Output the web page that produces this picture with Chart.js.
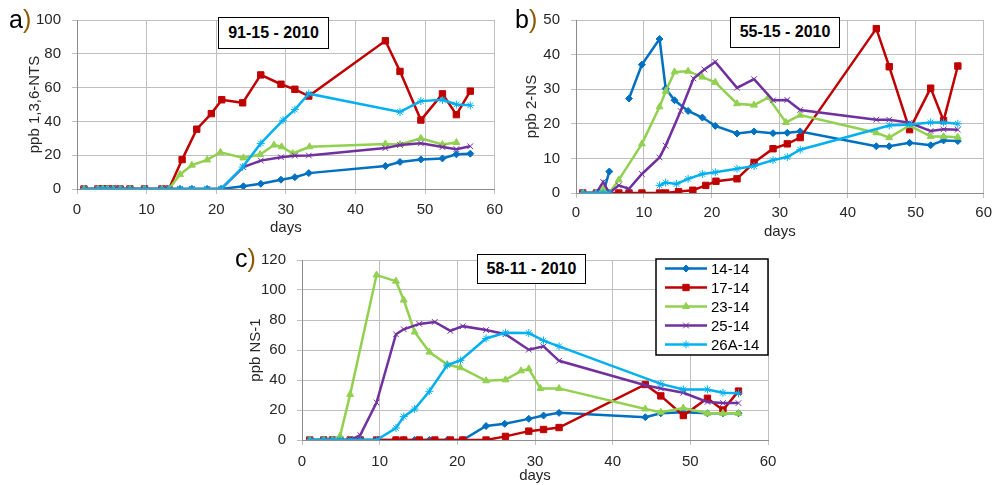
<!DOCTYPE html>
<html>
<head>
<meta charset="utf-8">
<script src="https://cdn.jsdelivr.net/npm/chart.js@4.4.1/dist/chart.umd.min.js"></script>
<style>
  body { margin: 0; background: #fff; width: 998px; height: 485px; position: relative; overflow: hidden;
         font-family: "Liberation Sans", Arial, sans-serif; }
  canvas { position: absolute; }
  .tag { position: absolute; font-size: 25px; line-height: 25px; color: #000; }
  .tag span { color: #8b5a00; }
  .name { position: absolute; box-sizing: border-box; border: 1.5px solid #000; background: #fff;
          font-weight: bold; font-size: 16px; text-align: center; color: #000; }
</style>
</head>
<body>
<canvas id="chartA" width="510" height="240" style="left:0;top:0"></canvas>
<canvas id="chartB" width="493" height="245" style="left:505px;top:0"></canvas>
<canvas id="chartC" width="570" height="245" style="left:220px;top:240px"></canvas>

<div class="tag" style="left:9px;top:7px">a<span>)</span></div>
<div class="tag" style="left:515px;top:7px">b<span>)</span></div>
<div class="tag" style="left:235px;top:246px">c<span>)</span></div>

<div class="name" style="left:218px;top:17px;width:111px;height:32px;line-height:29px">91-15 - 2010</div>
<div class="name" style="left:730px;top:17px;width:110px;height:31px;line-height:28px">55-15 - 2010</div>
<div class="name" style="left:477px;top:254px;width:109px;height:30px;line-height:27px">58-11 - 2010</div>

<script>
// sample names and line colours
const seriesNames = ["14-14", "17-14", "23-14", "25-14", "26A-14"];
const seriesColors = ["#0070c0", "#c00000", "#92d050", "#7030a0", "#00b0f0"];
const seriesMarkers = ["rectRot", "rect", "triangle", "crossRot", "star"];
const markerSizes = [3.5, 4.5, 4, 4, 4];

const dayTicks = [0, 10, 20, 30, 40, 50, 60];

// a) 91-15 - 2010, ppb 1,3,6-NTS   [day, value]
const a_14_14 = [[1,0],[3,0],[3.7,0],[4.4,0],[5.2,0],[6.2,0],[7.6,0],[9.7,0],[12.2,0],[13.2,0],[14.8,0],[16.5,0],[18.7,0],[20.7,0],
  [23.9,1.6],[26.4,3.1],[29.3,5.5],[31.3,7],[33.3,9.4],[44.3,13.6],[46.4,16],[49.4,17.5],[52.5,18.1],[54.5,20.5],[56.5,20.9]];
const a_17_14 = [[1,0],[3,0],[3.7,0],[4.4,0],[5.2,0],[6.2,0],[7.6,0],[9.7,0],[12.2,0],[13.2,0],
  [15.1,17.4],[17.2,35.4],[19.3,44.6],[20.8,52.8],[23.8,51],[26.4,67.5],[29.3,62],[31.3,59],[33.3,55],
  [44.3,87.7],[46.4,69.6],[49.4,40.8],[52.5,56.3],[54.5,44],[56.5,57.9]];
const a_23_14 = [[1,0],[3,0],[3.7,0],[4.4,0],[5.2,0],[6.2,0],[7.6,0],[9.7,0],[12.2,0],[13.2,0],
  [14.8,8.6],[16.5,14.1],[18.7,17.2],[20.6,21.7],[23.9,18.4],[26.3,20.4],[28.3,26],[29.4,25],[31,21],[33.4,25],
  [44.3,26.7],[46.4,26.3],[49.4,30],[52.5,26.3],[54.5,27.5]];
const a_25_14 = [[1,0],[3,0],[3.7,0],[4.4,0],[5.2,0],[6.2,0],[7.6,0],[9.7,0],[12.2,0],[13.2,0],[14.8,0],[16.5,0],[18.7,0],[20.7,0],
  [23.9,12.9],[26.4,16.8],[29.3,18.8],[31.3,19.7],[33.3,19.8],[44.3,24.2],[46.4,26],[49.4,27],[52.5,24.8],[54.5,23.6],[56.5,25.3]];
const a_26A_14 = [[1,0],[3,0],[3.7,0],[4.4,0],[5.2,0],[6.2,0],[7.6,0],[9.7,0],[12.2,0],[13.2,0],[14.8,0],[16.5,0],[18.7,0],[20.7,0],
  [23.8,13],[26.4,27],[29.6,40.7],[31.3,47],[33.3,56.4],[46.4,45.6],[49.4,52],[52.5,52.8],[54.5,50],[56.5,49.5]];

// b) 55-15 - 2010, ppb 2-NS   (null = break in the line)
const b_14_14 = [[1,0],[3,0],[4,0],[4.9,6.2],[6.3,null],[7.8,27.3],[9.7,37.1],[12.3,44.5],[13.2,30.2],[14.5,26.8],[16.5,23.7],
  [18.6,21.8],[20.5,19.4],[23.7,17.2],[26.2,17.8],[29,17.3],[31.1,17.4],[33,17.8],[44.2,13.5],[46.1,13.5],[49.1,14.5],
  [52.2,13.8],[54.1,15.2],[56.2,15]];
const b_17_14 = [[1,0],[3,0],[4,0],[4.9,0],[6.3,0],[7.8,0],[9.7,0],[12.3,0],[13.2,0],[15.1,0.4],[17.2,0.8],[19.1,2.2],
  [20.6,3.4],[23.7,4.1],[26.2,8.8],[29,12.8],[31.1,14.2],[33,16],[44.2,47.5],[46.1,36.5],[49.1,18.3],[52.2,30.3],
  [54.1,20.9],[56.2,36.7]];
const b_23_14 = [[1,0],[3,0],[4,1.1],[4.9,0],[6.3,3.8],[9.7,14.2],[12.3,24.9],[13.2,29.4],[14.5,35],[16.5,35.2],[18.6,33.5],
  [20.5,32],[23.7,25.8],[26.2,25.4],[28.3,27.6],[30.9,20.4],[33,22.5],[44.2,17.4],[46.1,16],[49.1,19.5],[52.2,16.3],
  [54.1,16.3],[56.2,16.1]];
const b_25_14 = [[1,0],[3,0],[4,3.2],[4.9,0],[6.3,2.2],[7.8,1.2],[9.7,5.5],[12.3,10.3],[13.2,13.7],[15.4,23.7],[17.3,33.1],
  [18.9,35.7],[20.5,37.9],[23.7,30.4],[26.2,32.9],[29,26.8],[31.1,26.9],[33,24],[44.2,21.2],[46.1,21.2],[49.1,20.3],
  [52.2,17.9],[54.1,18.4],[56.2,18.3]];
const b_26A_14 = [[1,0],[3,0],[4,0],[4.9,0],[8,null],[12.3,2.2],[13.2,3],[14.8,2.6],[16.5,4.1],[18.6,5.5],[20.5,6],
  [23.7,7],[26.2,7.8],[29,9.5],[31.1,10.4],[33,12.5],[46.1,19.5],[49.1,19.8],[52.2,20.4],[54.1,20.4],[56.2,20]];

// c) 58-11 - 2010, ppb NS-1
const c_14_14 = [[1,0],[2.8,0],[3.9,0],[4.9,0],[6.2,0],[7.5,0],[9.6,0],[12.1,0],[13.1,0],[14.5,0],[16.4,0],[18.7,0],[20.7,0],
  [23.7,9.3],[26.1,10.8],[29.2,14.1],[31.1,16.3],[33.1,18.1],[44.2,15.2],[46.2,17.8],[49.1,18.5],[52.2,17.8],[54.2,17.8],[56.2,17.8]];
const c_17_14 = [[1,0],[2.8,0],[3.9,0],[4.9,0],[6.2,0],[7.5,0],[9.6,0],[12.1,0],[13.1,0],[15.1,0],[17.1,0],[19.1,0],[20.7,0],
  [23.7,0],[26.2,2.4],[29.2,5.9],[31.1,7],[33.1,8.3],[44.2,37],[46.2,29.4],[49.1,16.3],[52.2,27.8],[54.2,20],[56.2,32.6]];
const c_23_14 = [[1,0],[2.8,0],[3.9,0],[4.9,2.6],[6.2,30.4],[9.6,110],[12.1,105.9],[13.1,93.3],[14.5,72],[16.4,58.6],
  [18.7,50.3],[20.4,48.2],[23.7,39.5],[26.2,40.1],[28.2,46.1],[29.2,47.4],[30.7,34.4],[33.1,34.4],[44.2,20.7],
  [46.2,18.5],[49.1,21.3],[52.2,17.8],[54.2,17.8],[56.2,17.8]];
const c_25_14 = [[1,0],[2.8,0],[3.9,0],[4.9,0],[6.2,0],[7.5,3.3],[9.6,25],[12.1,70.5],[13.1,73.8],[15.1,77.4],[17.1,78.7],
  [19.1,72.7],[20.7,75.9],[23.7,73.3],[26.2,70.5],[29.2,60.2],[31.1,62.4],[33.1,52.8],[44.2,36.5],[46.2,34.4],
  [49.1,31.5],[52.2,25.4],[54.2,24.6],[56.2,24.6]];
const c_26A_14 = [[1,0],[2.8,0],[3.9,0],[4.9,0],[6.2,0],[7.5,0],[9.6,0],[12.1,8],[13.1,15.6],[14.5,20.6],[16.4,32.5],
  [18.7,49.9],[20.4,53.1],[23.7,67.7],[26.2,71.5],[29.2,71.3],[31.1,66.3],[33.1,62.4],[46.2,37.4],[49.1,33.7],
  [52.2,33.7],[54.2,31.5],[56.2,31.1]];

const FONT = "'Liberation Sans', Arial, sans-serif";
const GRID = "#bfbfbf";
const TEXT = "#262626";

function makeDatasets(list) {
  return list.map((pts, i) => ({
    label: seriesNames[i],
    data: pts.map(p => ({ x: p[0], y: p[1] })),
    borderColor: seriesColors[i],
    backgroundColor: seriesColors[i],
    pointBackgroundColor: seriesColors[i],
    pointBorderColor: seriesColors[i],
    pointStyle: seriesMarkers[i],
    pointRadius: markerSizes[i],
    pointBorderWidth: 1,
    borderWidth: 2.5,
    tension: 0,
    spanGaps: false,
    order: list.length - 1 - i   // later series drawn on top
  }));
}

function makeScales(o) {
  return {
    x: {
      type: "linear", min: 0, max: 60,
      afterBuildTicks: s => { s.ticks = dayTicks.map(v => ({ value: v })); },
      ticks: { color: TEXT, font: { family: FONT, size: 15 }, padding: o.xPad, maxRotation: 0 },
      grid: { color: GRID, tickLength: 5 },
      border: { color: "#8c8c8c" },
      title: { display: true, text: "days", color: TEXT, font: { family: FONT, size: 15 },
               padding: { top: 0, bottom: o.daysPad } },
      afterFit: s => { s.height = o.xHeight; }
    },
    y: {
      type: "linear", min: 0, max: o.yMax,
      ticks: { stepSize: o.yStep, color: TEXT, font: { family: FONT, size: 15 }, padding: 11 },
      grid: { color: GRID, tickLength: 5 },
      border: { color: "#8c8c8c" },
      title: { display: true, text: o.yTitle, color: TEXT, font: { family: FONT, size: 15 },
               padding: { top: o.yTitlePad, bottom: 0 } },
      afterFit: s => { s.width = o.yWidth; }
    }
  };
}

// legend box in the top right corner of the plot
const legendBox = {
  id: "legendBox",
  afterDatasetsDraw(chart) {
    const { ctx, chartArea } = chart;
    const w = 112, h = 96;
    const x0 = chartArea.right - w, y0 = chartArea.top - 1;
    ctx.save();
    ctx.fillStyle = "#fff";
    ctx.fillRect(x0, y0, w, h);
    ctx.strokeStyle = "#000";
    ctx.lineWidth = 1.5;
    ctx.strokeRect(x0, y0, w, h);
    chart.data.datasets.forEach((ds, i) => {
      const y = y0 + 9.5 + i * 19;
      ctx.strokeStyle = ds.borderColor;
      ctx.lineWidth = ds.borderWidth;
      ctx.beginPath();
      ctx.moveTo(x0 + 9, y);
      ctx.lineTo(x0 + 51, y);
      ctx.stroke();
      if (Chart.helpers && Chart.helpers.drawPoint) {
        ctx.fillStyle = ds.pointBackgroundColor;
        ctx.lineWidth = 1;
        Chart.helpers.drawPoint(ctx, { pointStyle: ds.pointStyle, radius: ds.pointRadius, borderWidth: 1, rotation: 0 }, x0 + 30, y);
      }
      ctx.fillStyle = "#000";
      ctx.font = "15px " + FONT;
      ctx.textBaseline = "middle";
      ctx.textAlign = "left";
      ctx.fillText(ds.label, x0 + 55, y + 1);
    });
    ctx.restore();
  }
};

function drawChart(id, series, o, plugins) {
  return new Chart(document.getElementById(id), {
    type: "line",
    data: { datasets: makeDatasets(series) },
    options: {
      responsive: false,
      animation: false,
      layout: { padding: { left: 0, top: o.top, right: o.right, bottom: 0 } },
      plugins: { legend: { display: false }, tooltip: { enabled: false } },
      scales: makeScales(o)
    },
    plugins: plugins || []
  });
}

drawChart("chartA", [a_14_14, a_17_14, a_23_14, a_25_14, a_26A_14],
  { yMax: 100, yStep: 20, yTitle: "ppb 1,3,6-NTS", yTitlePad: 26, yWidth: 77, xHeight: 51,
    top: 18, right: 13, xPad: 7, daysPad: 3 });

drawChart("chartB", [b_14_14, b_17_14, b_23_14, b_25_14, b_26A_14],
  { yMax: 50, yStep: 10, yTitle: "ppb 2-NS", yTitlePad: 18, yWidth: 71, xHeight: 52,
    top: 18, right: 10, xPad: 6, daysPad: 4 });

drawChart("chartC", [c_14_14, c_17_14, c_23_14, c_25_14, c_26A_14],
  { yMax: 120, yStep: 20, yTitle: "ppb NS-1", yTitlePad: 27, yWidth: 82, xHeight: 45,
    top: 16, right: 22, xPad: 8, daysPad: 0 }, [legendBox]);
</script>
</body>
</html>
